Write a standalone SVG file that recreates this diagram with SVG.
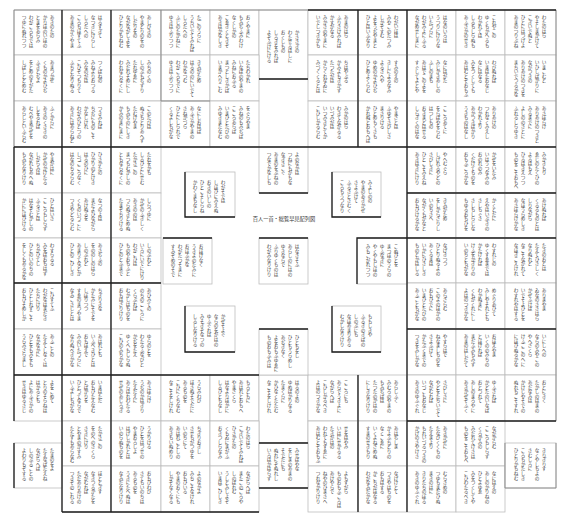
<svg xmlns="http://www.w3.org/2000/svg" width="566" height="523" viewBox="0 0 566 523">
<style>
.c{fill:#fff;stroke:#bdbdbd;stroke-width:.8}
.d{fill:none;stroke:#1e1e1e;stroke-width:1.3}
.m{fill:none;stroke:#8a8a8a;stroke-width:.9}
text{font-family:"Noto Sans CJK JP","Noto Sans CJK SC",sans-serif;font-size:4.6px;fill:#3a3a3a;writing-mode:vertical-rl}
text.t{writing-mode:horizontal-tb;font-size:5.2px;text-anchor:middle;fill:#333}
</style>
<rect width="566" height="523" fill="#fff"/>
<g id="cells">
<g id="p1" transform="translate(14,10)"><rect class="c" width="48" height="45"/><text x="38" y="5">あきのたの</text><text x="31" y="5">かりほのいほの</text><text x="24" y="5">とまをあらみ</text><text x="17" y="5">わがころもでは</text><text x="10" y="5">つゆにぬれつつ</text></g>
<g id="p2" transform="translate(62,10)"><rect class="c" width="49" height="45"/><text x="38" y="5">はるすぎて</text><text x="31" y="5">なつきにけらし</text><text x="24" y="5">しろたへの</text><text x="17" y="5">ころもほすてふ</text><text x="10" y="5">あまのかぐやま</text></g>
<g id="p3" transform="translate(111,10)"><rect class="c" width="50" height="45"/><text x="38" y="5">あしびきの</text><text x="31" y="5">やまどりのをの</text><text x="24" y="5">しだりをの</text><text x="17" y="5">ながながしよを</text><text x="10" y="5">ひとりかもねむ</text></g>
<g id="p4" transform="translate(161,10)"><rect class="c" width="49" height="45"/><text x="38" y="5">たごのうらに</text><text x="31" y="5">うちいでてみれば</text><text x="24" y="5">しろたへの</text><text x="17" y="5">ふじのたかねに</text><text x="10" y="5">ゆきはふりつつ</text></g>
<g id="p5" transform="translate(210,10)"><rect class="c" width="49" height="45"/><text x="38" y="5">おくやまに</text><text x="31" y="5">もみぢふみわけ</text><text x="24" y="5">なくしかの</text><text x="17" y="5">こゑきくときぞ</text><text x="10" y="5">あきはかなしき</text></g>
<g id="p6" transform="translate(259,10)"><rect class="c" width="49" height="69"/><text x="38" y="20">かささぎの</text><text x="31" y="20">わたせるはしに</text><text x="24" y="20">おくしもの</text><text x="17" y="20">しろきをみれば</text><text x="10" y="20">よぞふけにける</text></g>
<g id="p7" transform="translate(308,10)"><rect class="c" width="50" height="45"/><text x="38" y="5">あまのはら</text><text x="31" y="5">ふりさけみれば</text><text x="24" y="5">かすがなる</text><text x="17" y="5">みかさのやまに</text><text x="10" y="5">いでしつきかも</text></g>
<g id="p8" transform="translate(358,10)"><rect class="c" width="49" height="45"/><text x="38" y="5">わがいほは</text><text x="31" y="5">みやこのたつみ</text><text x="24" y="5">しかぞすむ</text><text x="17" y="5">よをうぢやまと</text><text x="10" y="5">ひとはいふなり</text></g>
<g id="p9" transform="translate(407,10)"><rect class="c" width="49" height="45"/><text x="38" y="5">はなのいろは</text><text x="31" y="5">うつりにけりな</text><text x="24" y="5">いたづらに</text><text x="17" y="5">わがみよにふる</text><text x="10" y="5">ながめせしまに</text></g>
<g id="p10" transform="translate(456,10)"><rect class="c" width="49" height="45"/><text x="38" y="5">これやこの</text><text x="31" y="5">ゆくもかへるも</text><text x="24" y="5">わかれては</text><text x="17" y="5">しるもしらぬも</text><text x="10" y="5">あふさかのせき</text></g>
<g id="p11" transform="translate(505,10)"><rect class="c" width="51" height="45"/><text x="39" y="5">わたのはら</text><text x="32" y="5">やそしまかけて</text><text x="25" y="5">こぎいでぬと</text><text x="18" y="5">ひとにはつげよ</text><text x="11" y="5">あまのつりぶね</text></g>
<g id="p12" transform="translate(14,55)"><rect class="c" width="48" height="46"/><text x="38" y="5">あまつかぜ</text><text x="31" y="5">くものかよひぢ</text><text x="24" y="5">ふきとぢよ</text><text x="17" y="5">をとめのすがた</text><text x="10" y="5">しばしとどめむ</text></g>
<g id="p13" transform="translate(62,55)"><rect class="c" width="49" height="46"/><text x="38" y="5">つくばねの</text><text x="31" y="5">みねよりおつる</text><text x="24" y="5">みなのがは</text><text x="17" y="5">こひぞつもりて</text><text x="10" y="5">ふちとなりぬる</text></g>
<g id="p14" transform="translate(111,55)"><rect class="c" width="50" height="46"/><text x="38" y="5">みちのくの</text><text x="31" y="5">しのぶもぢずり</text><text x="24" y="5">たれゆゑに</text><text x="17" y="5">みだれそめにし</text><text x="10" y="5">われならなくに</text></g>
<g id="p15" transform="translate(161,55)"><rect class="c" width="49" height="46"/><text x="38" y="5">きみがため</text><text x="31" y="5">はるののにいでて</text><text x="24" y="5">わかなつむ</text><text x="17" y="5">わがころもでに</text><text x="10" y="5">ゆきはふりつつ</text></g>
<g id="p16" transform="translate(210,55)"><rect class="c" width="49" height="46"/><text x="38" y="5">たちわかれ</text><text x="31" y="5">いなばのやまの</text><text x="24" y="5">みねにおふる</text><text x="17" y="5">まつとしきかば</text><text x="10" y="5">いまかへりこむ</text></g>
<g id="p17" transform="translate(308,55)"><rect class="c" width="50" height="46"/><text x="38" y="5">ちはやぶる</text><text x="31" y="5">かみよもきかず</text><text x="24" y="5">たつたがは</text><text x="17" y="5">からくれなゐに</text><text x="10" y="5">みづくくるとは</text></g>
<g id="p18" transform="translate(358,55)"><rect class="c" width="49" height="46"/><text x="38" y="5">すみのえの</text><text x="31" y="5">きしによるなみ</text><text x="24" y="5">よるさへや</text><text x="17" y="5">ゆめのかよひぢ</text><text x="10" y="5">ひとめよくらむ</text></g>
<g id="p19" transform="translate(407,55)"><rect class="c" width="49" height="46"/><text x="38" y="5">なにはがた</text><text x="31" y="5">みじかきあしの</text><text x="24" y="5">ふしのまも</text><text x="17" y="5">あはでこのよを</text><text x="10" y="5">すぐしてよとや</text></g>
<g id="p20" transform="translate(456,55)"><rect class="c" width="49" height="46"/><text x="38" y="5">わびぬれば</text><text x="31" y="5">いまはたおなじ</text><text x="24" y="5">なにはなる</text><text x="17" y="5">みをつくしても</text><text x="10" y="5">あはむとぞおもふ</text></g>
<g id="p21" transform="translate(505,55)"><rect class="c" width="51" height="46"/><text x="39" y="5">いまこむと</text><text x="32" y="5">いひしばかりに</text><text x="25" y="5">ながつきの</text><text x="18" y="5">ありあけのつきを</text><text x="11" y="5">まちいでつるかな</text></g>
<g id="p22" transform="translate(14,101)"><rect class="c" width="48" height="46"/><text x="38" y="5">ふくからに</text><text x="31" y="5">あきのくさきの</text><text x="24" y="5">しをるれば</text><text x="17" y="5">むべやまかぜを</text><text x="10" y="5">あらしといふらむ</text></g>
<g id="p23" transform="translate(62,101)"><rect class="c" width="49" height="46"/><text x="38" y="5">つきみれば</text><text x="31" y="5">ちぢにものこそ</text><text x="24" y="5">かなしけれ</text><text x="17" y="5">わがみひとつの</text><text x="10" y="5">あきにはあらねど</text></g>
<g id="p24" transform="translate(111,101)"><rect class="c" width="50" height="46"/><text x="38" y="5">このたびは</text><text x="31" y="5">ぬさもとりあへず</text><text x="24" y="5">たむけやま</text><text x="17" y="5">もみぢのにしき</text><text x="10" y="5">かみのまにまに</text></g>
<g id="p25" transform="translate(161,101)"><rect class="c" width="49" height="46"/><text x="38" y="5">なにしおはば</text><text x="31" y="5">あふさかやまの</text><text x="24" y="5">さねかづら</text><text x="17" y="5">ひとにしられで</text><text x="10" y="5">くるよしもがな</text></g>
<g id="p26" transform="translate(210,101)"><rect class="c" width="49" height="46"/><text x="38" y="5">をぐらやま</text><text x="31" y="5">みねのもみぢば</text><text x="24" y="5">こころあらば</text><text x="17" y="5">いまひとたびの</text><text x="10" y="5">みゆきまたなむ</text></g>
<g id="p27" transform="translate(308,101)"><rect class="c" width="50" height="46"/><text x="38" y="5">みかのはら</text><text x="31" y="5">わきてながるる</text><text x="24" y="5">いづみがは</text><text x="17" y="5">いつみきとてか</text><text x="10" y="5">こひしかるらむ</text></g>
<g id="p28" transform="translate(358,101)"><rect class="c" width="49" height="46"/><text x="38" y="5">やまざとは</text><text x="31" y="5">ふゆぞさびしさ</text><text x="24" y="5">まさりける</text><text x="17" y="5">ひとめもくさも</text><text x="10" y="5">かれぬとおもへば</text></g>
<g id="p29" transform="translate(407,101)"><rect class="c" width="49" height="46"/><text x="38" y="5">こころあてに</text><text x="31" y="5">をらばやをらむ</text><text x="24" y="5">はつしもの</text><text x="17" y="5">おきまどはせる</text><text x="10" y="5">しらぎくのはな</text></g>
<g id="p30" transform="translate(456,101)"><rect class="c" width="49" height="46"/><text x="38" y="5">ありあけの</text><text x="31" y="5">つれなくみえし</text><text x="24" y="5">わかれより</text><text x="17" y="5">あかつきばかり</text><text x="10" y="5">うきものはなし</text></g>
<g id="p31" transform="translate(505,101)"><rect class="c" width="51" height="46"/><text x="39" y="5">あさぼらけ</text><text x="32" y="5">ありあけのつきと</text><text x="25" y="5">みるまでに</text><text x="18" y="5">よしののさとに</text><text x="11" y="5">ふれるしらゆき</text></g>
<g id="p32" transform="translate(14,147)"><rect class="c" width="48" height="46"/><text x="38" y="5">やまがはに</text><text x="31" y="5">かぜのかけたる</text><text x="24" y="5">しがらみは</text><text x="17" y="5">ながれもあへぬ</text><text x="10" y="5">もみぢなりけり</text></g>
<g id="p33" transform="translate(62,147)"><rect class="c" width="49" height="46"/><text x="38" y="5">ひさかたの</text><text x="31" y="5">ひかりのどけき</text><text x="24" y="5">はるのひに</text><text x="17" y="5">しづごころなく</text><text x="10" y="5">はなのちるらむ</text></g>
<g id="p34" transform="translate(111,147)"><rect class="c" width="50" height="46"/><text x="38" y="5">たれをかも</text><text x="31" y="5">しるひとにせむ</text><text x="24" y="5">たかさごの</text><text x="17" y="5">まつもむかしの</text><text x="10" y="5">ともならなくに</text></g>
<g id="p35" transform="translate(14,193)"><rect class="c" width="48" height="45"/><text x="38" y="5">ひとはいさ</text><text x="31" y="5">こころもしらず</text><text x="24" y="5">ふるさとは</text><text x="17" y="5">はなぞむかしの</text><text x="10" y="5">かににほひける</text></g>
<g id="p36" transform="translate(62,193)"><rect class="c" width="49" height="45"/><text x="38" y="5">なつのよは</text><text x="31" y="5">まだよひながら</text><text x="24" y="5">あけぬるを</text><text x="17" y="5">くものいづこに</text><text x="10" y="5">つきやどるらむ</text></g>
<g id="p37" transform="translate(111,193)"><rect class="c" width="50" height="45"/><text x="38" y="5">しらつゆに</text><text x="31" y="5">かぜのふきしく</text><text x="24" y="5">あきののは</text><text x="17" y="5">つらぬきとめぬ</text><text x="10" y="5">たまぞちりける</text></g>
<g id="p38" transform="translate(14,238)"><rect class="c" width="48" height="45"/><text x="38" y="5">わすらるる</text><text x="31" y="5">みをばおもはず</text><text x="24" y="5">ちかひてし</text><text x="17" y="5">ひとのいのちの</text><text x="10" y="5">をしくもあるかな</text></g>
<g id="p39" transform="translate(62,238)"><rect class="c" width="49" height="45"/><text x="38" y="5">あさぢふの</text><text x="31" y="5">をののしのはら</text><text x="24" y="5">しのぶれど</text><text x="17" y="5">あまりてなどか</text><text x="10" y="5">ひとのこひしき</text></g>
<g id="p40" transform="translate(111,238)"><rect class="c" width="50" height="45"/><text x="38" y="5">しのぶれど</text><text x="31" y="5">いろにいでにけり</text><text x="24" y="5">わがこひは</text><text x="17" y="5">ものやおもふと</text><text x="10" y="5">ひとのとふまで</text></g>
<g id="p41" transform="translate(14,283)"><rect class="c" width="48" height="46"/><text x="38" y="5">こひすてふ</text><text x="31" y="5">わがなはまだき</text><text x="24" y="5">たちにけり</text><text x="17" y="5">ひとしれずこそ</text><text x="10" y="5">おもひそめしか</text></g>
<g id="p42" transform="translate(62,283)"><rect class="c" width="49" height="46"/><text x="38" y="5">ちぎりきな</text><text x="31" y="5">かたみにそでを</text><text x="24" y="5">しぼりつつ</text><text x="17" y="5">すゑのまつやま</text><text x="10" y="5">なみこさじとは</text></g>
<g id="p43" transform="translate(111,283)"><rect class="c" width="50" height="46"/><text x="38" y="5">あひみての</text><text x="31" y="5">のちのこころに</text><text x="24" y="5">くらぶれば</text><text x="17" y="5">むかしはものを</text><text x="10" y="5">おもはざりけり</text></g>
<g id="p44" transform="translate(14,329)"><rect class="c" width="48" height="46"/><text x="38" y="5">あふことの</text><text x="31" y="5">たえてしなくは</text><text x="24" y="5">なかなかに</text><text x="17" y="5">ひとをもみをも</text><text x="10" y="5">うらみざらまし</text></g>
<g id="p45" transform="translate(62,329)"><rect class="c" width="49" height="46"/><text x="38" y="5">あはれとも</text><text x="31" y="5">いふべきひとは</text><text x="24" y="5">おもほえで</text><text x="17" y="5">みのいたづらに</text><text x="10" y="5">なりぬべきかな</text></g>
<g id="p46" transform="translate(111,329)"><rect class="c" width="50" height="46"/><text x="38" y="5">ゆらのとを</text><text x="31" y="5">わたるふなびと</text><text x="24" y="5">かぢをたえ</text><text x="17" y="5">ゆくへもしらぬ</text><text x="10" y="5">こひのみちかな</text></g>
<g id="p47" transform="translate(407,147)"><rect class="c" width="49" height="46"/><text x="38" y="5">やへむぐら</text><text x="31" y="5">しげれるやどの</text><text x="24" y="5">さびしきに</text><text x="17" y="5">ひとこそみえね</text><text x="10" y="5">あきはきにけり</text></g>
<g id="p48" transform="translate(456,147)"><rect class="c" width="49" height="46"/><text x="38" y="5">かぜをいたみ</text><text x="31" y="5">いはうつなみの</text><text x="24" y="5">おのれのみ</text><text x="17" y="5">くだけてものを</text><text x="10" y="5">おもふころかな</text></g>
<g id="p49" transform="translate(505,147)"><rect class="c" width="51" height="46"/><text x="39" y="5">みかきもり</text><text x="32" y="5">ゑじのたくひの</text><text x="25" y="5">よるはもえ</text><text x="18" y="5">ひるはきえつつ</text><text x="11" y="5">ものをこそおもへ</text></g>
<g id="p50" transform="translate(407,193)"><rect class="c" width="49" height="45"/><text x="38" y="5">きみがため</text><text x="31" y="5">をしからざりし</text><text x="24" y="5">いのちさへ</text><text x="17" y="5">ながくもがなと</text><text x="10" y="5">おもひけるかな</text></g>
<g id="p51" transform="translate(456,193)"><rect class="c" width="49" height="45"/><text x="38" y="5">かくとだに</text><text x="31" y="5">えやはいぶきの</text><text x="24" y="5">さしもぐさ</text><text x="17" y="5">さしもしらじな</text><text x="10" y="5">もゆるおもひを</text></g>
<g id="p52" transform="translate(505,193)"><rect class="c" width="51" height="45"/><text x="39" y="5">あけぬれば</text><text x="32" y="5">くるるものとは</text><text x="25" y="5">しりながら</text><text x="18" y="5">なほうらめしき</text><text x="11" y="5">あさぼらけかな</text></g>
<g id="p53" transform="translate(407,238)"><rect class="c" width="49" height="45"/><text x="38" y="5">なげきつつ</text><text x="31" y="5">ひとりぬるよの</text><text x="24" y="5">あくるまは</text><text x="17" y="5">いかにひさしき</text><text x="10" y="5">ものとかはしる</text></g>
<g id="p54" transform="translate(456,238)"><rect class="c" width="49" height="45"/><text x="38" y="5">わすれじの</text><text x="31" y="5">ゆくすゑまでは</text><text x="24" y="5">かたければ</text><text x="17" y="5">けふをかぎりの</text><text x="10" y="5">いのちともがな</text></g>
<g id="p55" transform="translate(505,238)"><rect class="c" width="51" height="45"/><text x="39" y="5">たきのおとは</text><text x="32" y="5">たえてひさしく</text><text x="25" y="5">なりぬれど</text><text x="18" y="5">なこそながれて</text><text x="11" y="5">なほきこえけれ</text></g>
<g id="p56" transform="translate(407,283)"><rect class="c" width="49" height="46"/><text x="38" y="5">あらざらむ</text><text x="31" y="5">このよのほかの</text><text x="24" y="5">おもひでに</text><text x="17" y="5">いまひとたびの</text><text x="10" y="5">あふこともがな</text></g>
<g id="p57" transform="translate(456,283)"><rect class="c" width="49" height="46"/><text x="38" y="5">めぐりあひて</text><text x="31" y="5">みしやそれとも</text><text x="24" y="5">わかぬまに</text><text x="17" y="5">くもがくれにし</text><text x="10" y="5">よはのつきかな</text></g>
<g id="p58" transform="translate(505,283)"><rect class="c" width="51" height="46"/><text x="39" y="5">ありまやま</text><text x="32" y="5">ゐなのささはら</text><text x="25" y="5">かぜふけば</text><text x="18" y="5">いでそよひとを</text><text x="11" y="5">わすれやはする</text></g>
<g id="p59" transform="translate(407,329)"><rect class="c" width="49" height="46"/><text x="38" y="5">やすらはで</text><text x="31" y="5">ねなましものを</text><text x="24" y="5">さよふけて</text><text x="17" y="5">かたぶくまでの</text><text x="10" y="5">つきをみしかな</text></g>
<g id="p60" transform="translate(456,329)"><rect class="c" width="49" height="46"/><text x="38" y="5">おほえやま</text><text x="31" y="5">いくののみちの</text><text x="24" y="5">とほければ</text><text x="17" y="5">まだふみもみず</text><text x="10" y="5">あまのはしだて</text></g>
<g id="p61" transform="translate(505,329)"><rect class="c" width="51" height="46"/><text x="39" y="5">いにしへの</text><text x="32" y="5">ならのみやこの</text><text x="25" y="5">やへざくら</text><text x="18" y="5">けふここのへに</text><text x="11" y="5">にほひぬるかな</text></g>
<g id="p62" transform="translate(14,375)"><rect class="c" width="48" height="46"/><text x="38" y="5">よをこめて</text><text x="31" y="5">とりのそらねは</text><text x="24" y="5">はかるとも</text><text x="17" y="5">よにあふさかの</text><text x="10" y="5">せきはゆるさじ</text></g>
<g id="p63" transform="translate(62,375)"><rect class="c" width="49" height="46"/><text x="38" y="5">いまはただ</text><text x="31" y="5">おもひたえなむ</text><text x="24" y="5">とばかりを</text><text x="17" y="5">ひとづてならで</text><text x="10" y="5">いふよしもがな</text></g>
<g id="p64" transform="translate(111,375)"><rect class="c" width="50" height="46"/><text x="38" y="5">あさぼらけ</text><text x="31" y="5">うぢのかはぎり</text><text x="24" y="5">たえだえに</text><text x="17" y="5">あらはれわたる</text><text x="10" y="5">せぜのあじろぎ</text></g>
<g id="p65" transform="translate(161,375)"><rect class="c" width="49" height="46"/><text x="38" y="5">うらみわび</text><text x="31" y="5">ほさぬそでだに</text><text x="24" y="5">あるものを</text><text x="17" y="5">こひにくちなむ</text><text x="10" y="5">なこそをしけれ</text></g>
<g id="p66" transform="translate(210,375)"><rect class="c" width="49" height="46"/><text x="38" y="5">もろともに</text><text x="31" y="5">あはれとおもへ</text><text x="24" y="5">やまざくら</text><text x="17" y="5">はなよりほかに</text><text x="10" y="5">しるひともなし</text></g>
<g id="p67" transform="translate(259,375)"><rect class="c" width="49" height="68"/><text x="38" y="5">はるのよの</text><text x="31" y="5">ゆめばかりなる</text><text x="24" y="5">たまくらに</text><text x="17" y="5">かひなくたたむ</text><text x="10" y="5">なこそをしけれ</text></g>
<g id="p68" transform="translate(308,375)"><rect class="c" width="50" height="46"/><text x="38" y="5">こころにも</text><text x="31" y="5">あらでうきよに</text><text x="24" y="5">ながらへば</text><text x="17" y="5">こひしかるべき</text><text x="10" y="5">よはのつきかな</text></g>
<g id="p69" transform="translate(358,375)"><rect class="c" width="49" height="46"/><text x="38" y="5">あらしふく</text><text x="31" y="5">みむろのやまの</text><text x="24" y="5">もみぢばは</text><text x="17" y="5">たつたのかはの</text><text x="10" y="5">にしきなりけり</text></g>
<g id="p70" transform="translate(407,375)"><rect class="c" width="49" height="46"/><text x="38" y="5">さびしさに</text><text x="31" y="5">やどをたちいでて</text><text x="24" y="5">ながむれば</text><text x="17" y="5">いづこもおなじ</text><text x="10" y="5">あきのゆふぐれ</text></g>
<g id="p71" transform="translate(456,375)"><rect class="c" width="49" height="46"/><text x="38" y="5">ゆふされば</text><text x="31" y="5">かどたのいなば</text><text x="24" y="5">おとづれて</text><text x="17" y="5">あしのまろやに</text><text x="10" y="5">あきかぜぞふく</text></g>
<g id="p72" transform="translate(505,375)"><rect class="c" width="51" height="46"/><text x="39" y="5">おとにきく</text><text x="32" y="5">たかしのはまの</text><text x="25" y="5">あだなみは</text><text x="18" y="5">かけじやそでの</text><text x="11" y="5">ぬれもこそすれ</text></g>
<g id="p73" transform="translate(62,421)"><rect class="c" width="49" height="45"/><text x="38" y="5">たかさごの</text><text x="31" y="5">をのへのさくら</text><text x="24" y="5">さきにけり</text><text x="17" y="5">とやまのかすみ</text><text x="10" y="5">たたずもあらなむ</text></g>
<g id="p74" transform="translate(111,421)"><rect class="c" width="50" height="45"/><text x="38" y="5">うかりける</text><text x="31" y="5">ひとをはつせの</text><text x="24" y="5">やまおろしよ</text><text x="17" y="5">はげしかれとは</text><text x="10" y="5">いのらぬものを</text></g>
<g id="p75" transform="translate(161,421)"><rect class="c" width="49" height="45"/><text x="38" y="5">ちぎりおきし</text><text x="31" y="5">させもがつゆを</text><text x="24" y="5">いのちにて</text><text x="17" y="5">あはれことしの</text><text x="10" y="5">あきもいぬめり</text></g>
<g id="p76" transform="translate(210,421)"><rect class="c" width="49" height="45"/><text x="38" y="5">わたのはら</text><text x="31" y="5">こぎいでてみれば</text><text x="24" y="5">ひさかたの</text><text x="17" y="5">くもゐにまがふ</text><text x="10" y="5">おきつしらなみ</text></g>
<g id="p77" transform="translate(308,421)"><rect class="c" width="50" height="45"/><text x="38" y="5">せをはやみ</text><text x="31" y="5">いはにせかるる</text><text x="24" y="5">たきがはの</text><text x="17" y="5">われてもすゑに</text><text x="10" y="5">あはむとぞおもふ</text></g>
<g id="p78" transform="translate(358,421)"><rect class="c" width="49" height="45"/><text x="38" y="5">あはぢしま</text><text x="31" y="5">かよふちどりの</text><text x="24" y="5">なくこゑに</text><text x="17" y="5">いくよねざめぬ</text><text x="10" y="5">すまのせきもり</text></g>
<g id="p79" transform="translate(407,421)"><rect class="c" width="49" height="45"/><text x="38" y="5">あきかぜに</text><text x="31" y="5">たなびくくもの</text><text x="24" y="5">たえまより</text><text x="17" y="5">もれいづるつきの</text><text x="10" y="5">かげのさやけさ</text></g>
<g id="p80" transform="translate(456,421)"><rect class="c" width="49" height="45"/><text x="38" y="5">ながからむ</text><text x="31" y="5">こころもしらず</text><text x="24" y="5">くろかみの</text><text x="17" y="5">みだれてけさは</text><text x="10" y="5">ものをこそおもへ</text></g>
<g id="p81" transform="translate(62,466)"><rect class="c" width="49" height="46"/><text x="38" y="5">ほととぎす</text><text x="31" y="5">なきつるかたを</text><text x="24" y="5">ながむれば</text><text x="17" y="5">ただありあけの</text><text x="10" y="5">つきぞのこれる</text></g>
<g id="p82" transform="translate(111,466)"><rect class="c" width="50" height="46"/><text x="38" y="5">おもひわび</text><text x="31" y="5">さてもいのちは</text><text x="24" y="5">あるものを</text><text x="17" y="5">うきにたへぬは</text><text x="10" y="5">なみだなりけり</text></g>
<g id="p83" transform="translate(161,466)"><rect class="c" width="49" height="46"/><text x="38" y="5">よのなかよ</text><text x="31" y="5">みちこそなけれ</text><text x="24" y="5">おもひいる</text><text x="17" y="5">やまのおくにも</text><text x="10" y="5">しかぞなくなる</text></g>
<g id="p84" transform="translate(210,466)"><rect class="c" width="49" height="46"/><text x="38" y="5">ながらへば</text><text x="31" y="5">またこのごろや</text><text x="24" y="5">しのばれむ</text><text x="17" y="5">うしとみしよぞ</text><text x="10" y="5">いまはこひしき</text></g>
<g id="p85" transform="translate(308,466)"><rect class="c" width="50" height="46"/><text x="38" y="5">よもすがら</text><text x="31" y="5">ものおもふころは</text><text x="24" y="5">あけやらで</text><text x="17" y="5">ねやのひまさへ</text><text x="10" y="5">つれなかりけり</text></g>
<g id="p86" transform="translate(358,466)"><rect class="c" width="49" height="46"/><text x="38" y="5">なげけとて</text><text x="31" y="5">つきやはものを</text><text x="24" y="5">おもはする</text><text x="17" y="5">かこちがほなる</text><text x="10" y="5">わがなみだかな</text></g>
<g id="p87" transform="translate(407,466)"><rect class="c" width="49" height="46"/><text x="38" y="5">むらさめの</text><text x="31" y="5">つゆもまだひぬ</text><text x="24" y="5">まきのはに</text><text x="17" y="5">きりたちのぼる</text><text x="10" y="5">あきのゆふぐれ</text></g>
<g id="p88" transform="translate(456,466)"><rect class="c" width="49" height="46"/><text x="38" y="5">なにはえの</text><text x="31" y="5">あしのかりねの</text><text x="24" y="5">ひとよゆゑ</text><text x="17" y="5">みをつくしてや</text><text x="10" y="5">こひわたるべき</text></g>
<g id="p89" transform="translate(14,443)"><rect class="c" width="48" height="45"/><text x="38" y="5">たまのをよ</text><text x="31" y="5">たえなばたえね</text><text x="24" y="5">ながらへば</text><text x="17" y="5">しのぶることの</text><text x="10" y="5">よわりもぞする</text></g>
<g id="p90" transform="translate(259,443)"><rect class="c" width="49" height="45"/><text x="38" y="5">みせばやな</text><text x="31" y="5">をじまのあまの</text><text x="24" y="5">そでだにも</text><text x="17" y="5">ぬれにぞぬれし</text><text x="10" y="5">いろはかはらず</text></g>
<g id="p91" transform="translate(505,443)"><rect class="c" width="51" height="45"/><text x="39" y="5">きりぎりす</text><text x="32" y="5">なくやしもよの</text><text x="25" y="5">さむしろに</text><text x="18" y="5">ころもかたしき</text><text x="11" y="5">ひとりかもねむ</text></g>
<g id="p92" transform="translate(185,172)"><rect class="c" width="50" height="45"/><text x="38" y="8">わがそでは</text><text x="31" y="8">しほひにみえぬ</text><text x="24" y="8">おきのいしの</text><text x="17" y="8">ひとこそしらね</text><text x="10" y="8">かわくまもなし</text></g>
<g id="p93" transform="translate(259,147)"><rect class="c" width="49" height="46"/><text x="38" y="5">よのなかは</text><text x="31" y="5">つねにもがもな</text><text x="24" y="5">なぎさこぐ</text><text x="17" y="5">あまのをぶねの</text><text x="10" y="5">つなでかなしも</text></g>
<g id="p94" transform="translate(332,172)"><rect class="c" width="49" height="45"/><text x="38" y="8">みよしのの</text><text x="31" y="8">やまのあきかぜ</text><text x="24" y="8">さよふけて</text><text x="17" y="8">ふるさとさむく</text><text x="10" y="8">ころもうつなり</text></g>
<g id="p95" transform="translate(163,238)"><rect class="c" width="49" height="46"/><text x="38" y="6">おほけなく</text><text x="31" y="6">うきよのたみに</text><text x="24" y="6">おほふかな</text><text x="17" y="6">わがたつそまに</text><text x="10" y="6">すみぞめのそで</text></g>
<g id="p96" transform="translate(259,238)"><rect class="c" width="49" height="46"/><text x="38" y="6">はなさそふ</text><text x="31" y="6">あらしのにはの</text><text x="24" y="6">ゆきならで</text><text x="17" y="6">ふりゆくものは</text><text x="10" y="6">わがみなりけり</text></g>
<g id="p97" transform="translate(357,238)"><rect class="c" width="50" height="46"/><text x="39" y="6">こぬひとを</text><text x="32" y="6">まつほのうらの</text><text x="25" y="6">ゆふなぎに</text><text x="18" y="6">やくやもしほの</text><text x="11" y="6">みもこがれつつ</text></g>
<g id="p98" transform="translate(185,306)"><rect class="c" width="50" height="46"/><text x="38" y="8">かぜそよぐ</text><text x="31" y="8">ならのをがはの</text><text x="24" y="8">ゆふぐれは</text><text x="17" y="8">みそぎぞなつの</text><text x="10" y="8">しるしなりける</text></g>
<g id="p99" transform="translate(259,329)"><rect class="c" width="49" height="46"/><text x="38" y="6">ひともをし</text><text x="31" y="6">ひともうらめし</text><text x="24" y="6">あぢきなく</text><text x="17" y="6">よをおもふゆゑに</text><text x="10" y="6">ものおもふみは</text></g>
<g id="p100" transform="translate(332,306)"><rect class="c" width="49" height="46"/><text x="38" y="8">ももしきや</text><text x="31" y="8">ふるきのきばの</text><text x="24" y="8">しのぶにも</text><text x="17" y="8">なほあまりある</text><text x="10" y="8">むかしなりけり</text></g>
</g>
<g id="title"><text class="t" x="284" y="221">百人一首・総覧早見配列図</text></g>
<g id="connectors">
<path class="m" d="M14 10H308M14 10V147M556 10V421M505 443V488H556V443M161 10V101H210"/>
<path class="d" d="M62 10V512M111 10V512M14 147H556M358 10V147M358 375V512M407 10V512M407 193H556M407 238H556M407 329H556M407 421H556M14 283H161M14 375H259M14 147V421M14 443V488M62 512H259M259 443H308M259 488H308M259 79H308M308 10H556"/>
<path class="d" d="M185 172V217H235M259 193H308M332 172V217H381M163 238H212M259 238H308M357 284V238H407M185 306V352H235M259 329H308M332 306V352H381"/>
</g>
</svg>
